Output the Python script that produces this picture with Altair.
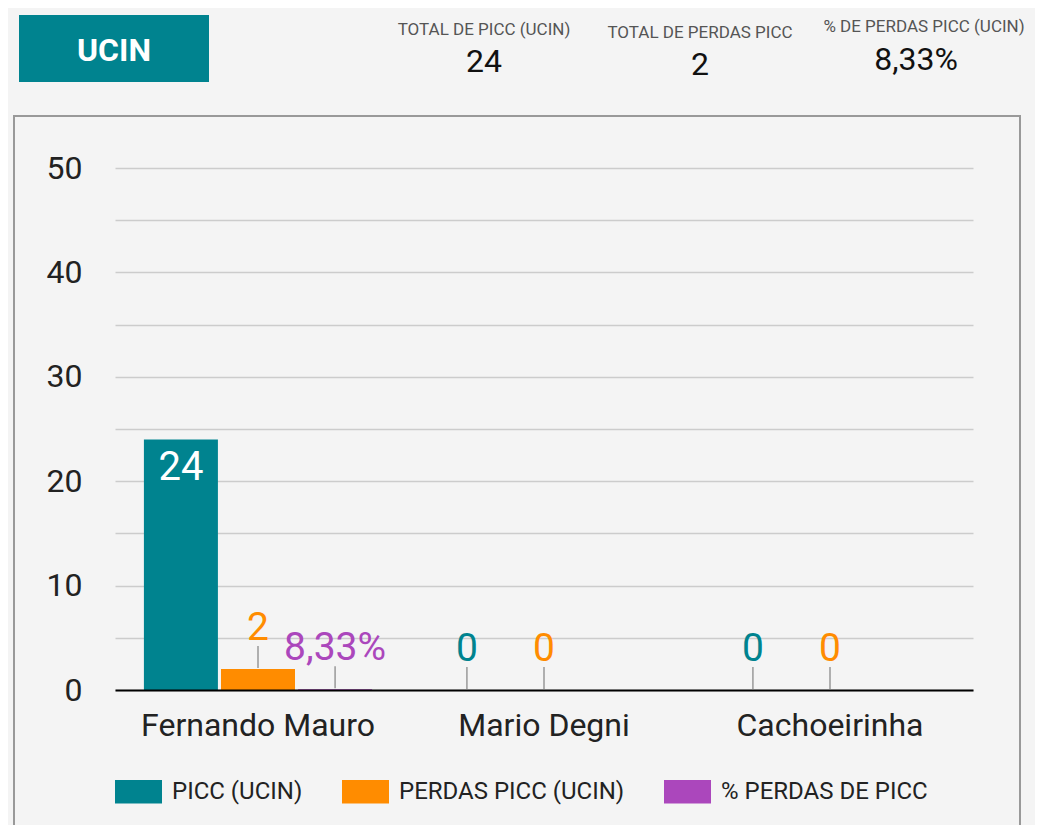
import altair as alt
import pandas as pd

# ---- data ----
CATEGORIES = ["Fernando Mauro", "Mario Degni", "Cachoeirinha"]
SERIES = ["PICC (UCIN)", "PERDAS PICC (UCIN)", "% PERDAS DE PICC"]
PICC = [24, 0, 0]
PERDAS = [2, 0, 0]
PCT = [0.0833, None, None]
COLORS = ["#00838F", "#FF8C00", "#AB47BC"]

KPI_TITLES = ["TOTAL DE PICC (UCIN)", "TOTAL DE PERDAS PICC", "% DE PERDAS PICC (UCIN)"]
KPI_VALUES = ["24", "2", "8,33%"]
PANEL_TITLE = "UCIN"

FONT = "Roboto"


def fmt(v, pct):
    if pct:
        return f"{v * 100:.2f}".replace(".", ",") + "%"
    return str(int(v))


rows = []
for i, cat in enumerate(CATEGORIES):
    for s, vals, pct in ((SERIES[0], PICC, False), (SERIES[1], PERDAS, False), (SERIES[2], PCT, True)):
        v = vals[i]
        if v is None:
            continue
        rows.append({"cat": cat, "series": s, "value": v, "label": fmt(v, pct),
                     "inside": v >= 10})
df = pd.DataFrame(rows)

W, H = 858, 522

xenc = alt.X("cat:N", sort=CATEGORIES, title=None,
             scale=alt.Scale(paddingInner=0, paddingOuter=0),
             axis=alt.Axis(labelFontSize=32, labelFont=FONT, labelColor="#222",
                           labelPadding=20, ticks=False, domainColor="#000",
                           domainWidth=2, labelAngle=0, zindex=1, labelLimit=500))
xoff = alt.XOffset("series:N", sort=SERIES,
                   scale=alt.Scale(domain=SERIES, paddingInner=0.04, paddingOuter=0.375))
yenc = alt.Y("value:Q", title=None,
             scale=alt.Scale(domain=[0, 50], nice=False),
             axis=alt.Axis(values=list(range(0, 55, 5)),
                           labelExpr="datum.value % 10 == 0 ? datum.label : ''",
                           labelFontSize=32, labelFont=FONT, labelColor="#222",
                           labelPadding=33, ticks=False, domain=False,
                           gridColor="#cccccc", gridWidth=1.5))
color = alt.Color("series:N", sort=SERIES,
                  scale=alt.Scale(domain=SERIES, range=COLORS),
                  legend=alt.Legend(orient="none", legendX=0, legendY=600,
                                    direction="horizontal", title=None,
                                    symbolType="M-1,-0.5L1,-0.5L1,0.5L-1,0.5Z",
                                    symbolSize=2209, symbolStrokeWidth=0,
                                    symbolOpacity=1,
                                    labelFontSize=24, labelFont=FONT,
                                    labelColor="#222", columnPadding=39,
                                    labelOffset=10, padding=0, labelLimit=400))

base = alt.Chart(df)

bars = base.mark_bar().encode(x=xenc, xOffset=xoff, y=yenc, color=color)

inside_lbl = base.transform_filter("datum.inside").mark_text(
    baseline="top", dy=9, fontSize=40, font=FONT, color="white"
).encode(x=alt.X("cat:N", sort=CATEGORIES), xOffset=xoff, y="value:Q", text="label:N")

outside_lbl = base.transform_filter("!datum.inside").mark_text(
    baseline="alphabetic", dy=-29, fontSize=39, font=FONT
).encode(x=alt.X("cat:N", sort=CATEGORIES), xOffset=xoff, y="value:Q", text="label:N",
         color=alt.Color("series:N", sort=SERIES, scale=alt.Scale(domain=SERIES, range=COLORS), legend=None))

leaders = base.transform_filter("!datum.inside").mark_rule(
    color="#999999", strokeWidth=1.5, yOffset=-1, y2Offset=-23
).encode(x=alt.X("cat:N", sort=CATEGORIES), xOffset=xoff, y="value:Q", y2="value:Q")

# ---- decorations (panel frame, title box, KPI header) ----
frame = alt.Chart(alt.Data(values=[{"k": 1}])).mark_rect(
    fillOpacity=0, stroke="#999999", strokeWidth=2
).encode(x=alt.value(-101), x2=alt.value(905), y=alt.value(-52), y2=alt.value(690))

title_box = alt.Chart(alt.Data(values=[{"k": 1}])).mark_rect(fill="#00838F").encode(
    x=alt.value(-96), x2=alt.value(94), y=alt.value(-153), y2=alt.value(-86))
title_txt = alt.Chart(alt.Data(values=[{"t": PANEL_TITLE}])).mark_text(
    fontSize=32, font=FONT, fontWeight="bold", color="white", baseline="middle"
).encode(x=alt.value(-1), y=alt.value(-117), text="t:N")

KPI_TX = [369, 585, 809]
KPI_VX = [369, 585, 801]
KPI_TY = [-138, -135, -141]
KPI_VY = [-106, -103, -108]
kpi_layers = []
for t, v, tx, vx, ty, vy in zip(KPI_TITLES, KPI_VALUES, KPI_TX, KPI_VX, KPI_TY, KPI_VY):
    kpi_layers.append(alt.Chart(alt.Data(values=[{"t": t}])).mark_text(
        fontSize=17, font=FONT, color="#555555", baseline="middle"
    ).encode(x=alt.value(tx), y=alt.value(ty), text="t:N"))
    kpi_layers.append(alt.Chart(alt.Data(values=[{"t": v}])).mark_text(
        fontSize=32, font=FONT, color="#111111", baseline="middle"
    ).encode(x=alt.value(vx), y=alt.value(vy), text="t:N"))

chart = alt.layer(
    frame, title_box, title_txt, *kpi_layers, bars, leaders, inside_lbl, outside_lbl
).properties(
    width=W, height=H,
    autosize=alt.AutoSizeParams(type="none"),
    padding={"left": 107, "top": 160, "right": 62, "bottom": 135},
    background="#f4f4f4",
).configure_view(strokeWidth=0)

chart.save("out.html", embed_options={"renderer": "svg", "actions": False})
